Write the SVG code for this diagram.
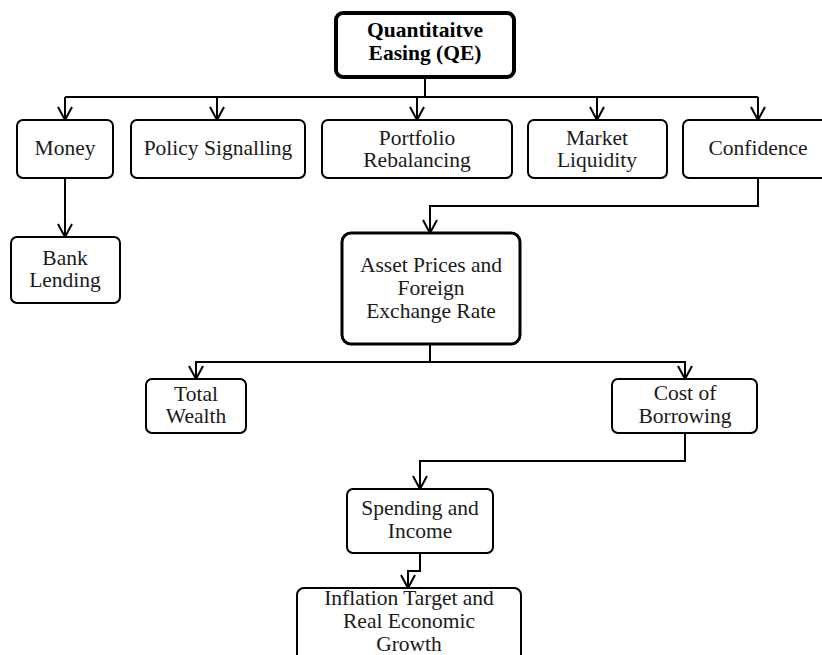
<svg xmlns="http://www.w3.org/2000/svg" width="822" height="655" viewBox="0 0 822 655">
<defs>
<marker id="arr" viewBox="-15 -9 17 18" refX="0" refY="0" markerWidth="17" markerHeight="18" markerUnits="userSpaceOnUse" orient="auto">
<path d="M-13,-7 L0,0 L-13,7" fill="none" stroke="#000" stroke-width="2"/>
</marker>
<style>
.box{fill:#fff;stroke:#000;stroke-width:2}
.thick{stroke-width:3}
.qe{stroke-width:4}
.t{font-family:"Liberation Serif","Times New Roman",serif;font-size:21.5px;fill:#1a1a1a;text-anchor:middle}
.b{font-weight:bold;fill:#000}
.c{fill:none;stroke:#000;stroke-width:2}
</style>
</defs>
<rect width="822" height="655" fill="#fff"/>
<g id="connectors">
<path class="c" d="M425,77 V97 M65,97 H758"/>
<path class="c" d="M65,97 V120" marker-end="url(#arr)"/>
<path class="c" d="M217,97 V120" marker-end="url(#arr)"/>
<path class="c" d="M417,97 V120" marker-end="url(#arr)"/>
<path class="c" d="M597,97 V120" marker-end="url(#arr)"/>
<path class="c" d="M758,97 V120" marker-end="url(#arr)"/>
<path class="c" d="M65,178 V237" marker-end="url(#arr)"/>
<path class="c" d="M758,178 V206 H430 V233" marker-end="url(#arr)"/>
<path class="c" d="M430,344 V362 H196 V379" marker-end="url(#arr)"/>
<path class="c" d="M430,362 H685 V379" marker-end="url(#arr)"/>
<path class="c" d="M685,433 V461 H420 V489" marker-end="url(#arr)"/>
<path class="c" d="M420,553 V571 H408 V588" marker-end="url(#arr)"/>
</g>
<g id="qe">
<rect class="box qe" x="336" y="13" width="178" height="64" rx="7"/>
<text class="t b" x="425" y="37">Quantitaitve</text>
<text class="t b" x="425" y="60">Easing (QE)</text>
</g>
<g id="money">
<rect class="box" x="17" y="120" width="96" height="58" rx="6"/>
<text class="t" x="65" y="155">Money</text>
</g>
<g id="policy">
<rect class="box" x="131" y="120" width="174" height="58" rx="6"/>
<text class="t" x="218" y="155">Policy Signalling</text>
</g>
<g id="portfolio">
<rect class="box" x="322" y="120" width="190" height="58" rx="6"/>
<text class="t" x="417" y="145">Portfolio</text>
<text class="t" x="417" y="167">Rebalancing</text>
</g>
<g id="market">
<rect class="box" x="528" y="120" width="139" height="58" rx="6"/>
<text class="t" x="597" y="145">Market</text>
<text class="t" x="597" y="167">Liquidity</text>
</g>
<g id="confidence">
<rect class="box" x="683" y="120" width="150" height="58" rx="6"/>
<text class="t" x="758" y="155">Confidence</text>
</g>
<g id="bank">
<rect class="box" x="11" y="237" width="109" height="66" rx="6"/>
<text class="t" x="65" y="265">Bank</text>
<text class="t" x="65" y="287">Lending</text>
</g>
<g id="asset">
<rect class="box thick" x="342" y="233" width="178" height="111" rx="9"/>
<text class="t" x="431" y="272">Asset Prices and</text>
<text class="t" x="431" y="295">Foreign</text>
<text class="t" x="431" y="318">Exchange Rate</text>
</g>
<g id="wealth">
<rect class="box" x="146" y="379" width="100" height="54" rx="6"/>
<text class="t" x="196" y="401">Total</text>
<text class="t" x="196" y="423">Wealth</text>
</g>
<g id="cost">
<rect class="box" x="612" y="379" width="145" height="54" rx="6"/>
<text class="t" x="685" y="400">Cost of</text>
<text class="t" x="685" y="423">Borrowing</text>
</g>
<g id="spending">
<rect class="box" x="347" y="489" width="146" height="64" rx="6"/>
<text class="t" x="420" y="515">Spending and</text>
<text class="t" x="420" y="538">Income</text>
</g>
<g id="inflation">
<rect class="box" x="297" y="588" width="224" height="90" rx="7"/>
<text class="t" x="409" y="605">Inflation Target and</text>
<text class="t" x="409" y="628">Real Economic</text>
<text class="t" x="409" y="651">Growth</text>
</g>
</svg>
